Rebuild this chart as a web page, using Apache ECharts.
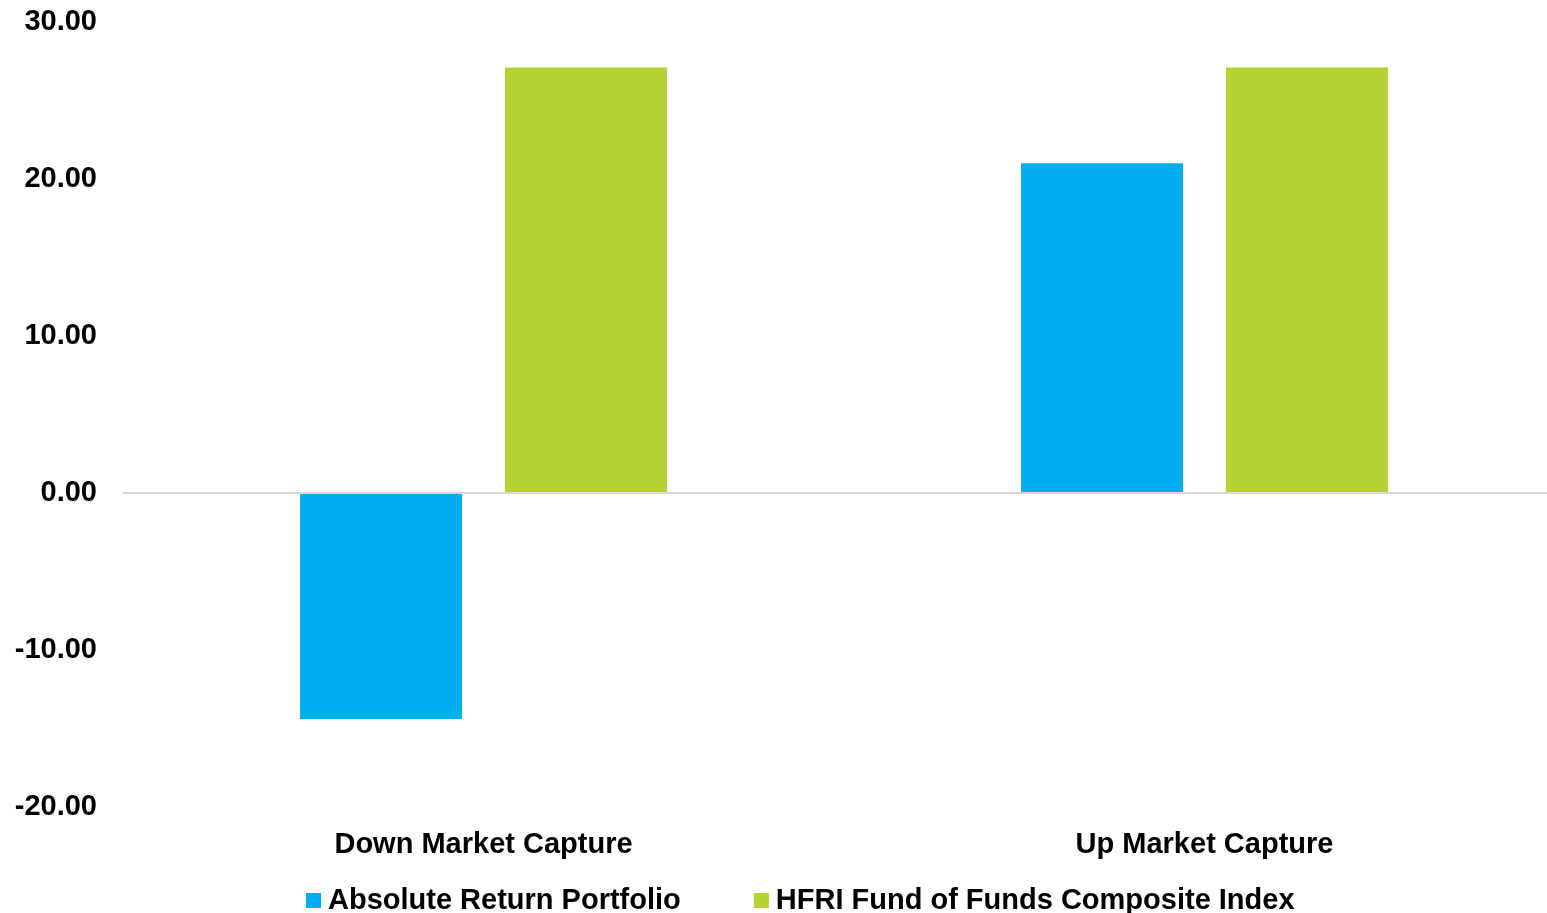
<!DOCTYPE html>
<html>
<head>
<meta charset="utf-8">
<title>Market Capture</title>
<script src="https://cdn.jsdelivr.net/npm/echarts@6/dist/echarts.min.js"></script>
<style>
  html, body { margin: 0; padding: 0; background: #fff; }
  #chart { width: 1547px; height: 913px; }
</style>
</head>
<body>
<div id="chart"></div>
<script type="text/javascript">
  var categories = ['Down Market Capture', 'Up Market Capture'];
  var seriesNames = ['Absolute Return Portfolio', 'HFRI Fund of Funds Composite Index'];
  var absoluteReturn = [-14.4, 21.0];
  var hfriIndex = [27.1, 27.1];
  var yTicks = { min: -20, max: 30, interval: 10 };

  var font = 'Liberation Sans, Arial, sans-serif';
  var myChart = echarts.init(document.getElementById('chart'));
  myChart.setOption({
    animation: false,
    legend: {
      data: seriesNames,
      bottom: -7,
      left: 301,
      itemWidth: 15,
      itemHeight: 15,
      itemGap: 73,
      icon: 'rect',
      textStyle: { fontFamily: font, fontWeight: 'bold', fontSize: 29, color: '#000', padding: [0, 0, 0, 2] }
    },
    grid: { left: 123, width: 1442, top: 22, bottom: 106, outerBoundsMode: 'none', containLabel: false },
    xAxis: {
      type: 'category',
      data: categories,
      axisLine: { show: true, onZero: false, lineStyle: { color: '#fff' } },
      axisTick: { show: false },
      axisLabel: { fontFamily: font, fontWeight: 'bold', fontSize: 29, color: '#000', margin: 23 }
    },
    yAxis: {
      type: 'value',
      min: yTicks.min,
      max: yTicks.max,
      interval: yTicks.interval,
      axisLine: { show: false },
      axisTick: { show: false },
      splitLine: { show: false },
      axisLabel: {
        fontFamily: font, fontWeight: 'bold', fontSize: 29, color: '#000', margin: 26,
        formatter: function (v) { return v.toFixed(2); }
      }
    },
    series: [{
      name: seriesNames[0],
      type: 'bar',
      data: absoluteReturn,
      barWidth: 162,
      barGap: '26.5%',
      itemStyle: { color: '#00aeef' },
      markLine: {
        silent: true,
        symbol: 'none',
        label: { show: false },
        lineStyle: { color: '#d9d9d9', width: 2, type: 'solid' },
        data: [{ yAxis: 0 }]
      }
    }, {
      name: seriesNames[1],
      type: 'bar',
      data: hfriIndex,
      barWidth: 162,
      barGap: '26.5%',
      itemStyle: { color: '#b5d334' }
    }]
  });
</script>
</body>
</html>
